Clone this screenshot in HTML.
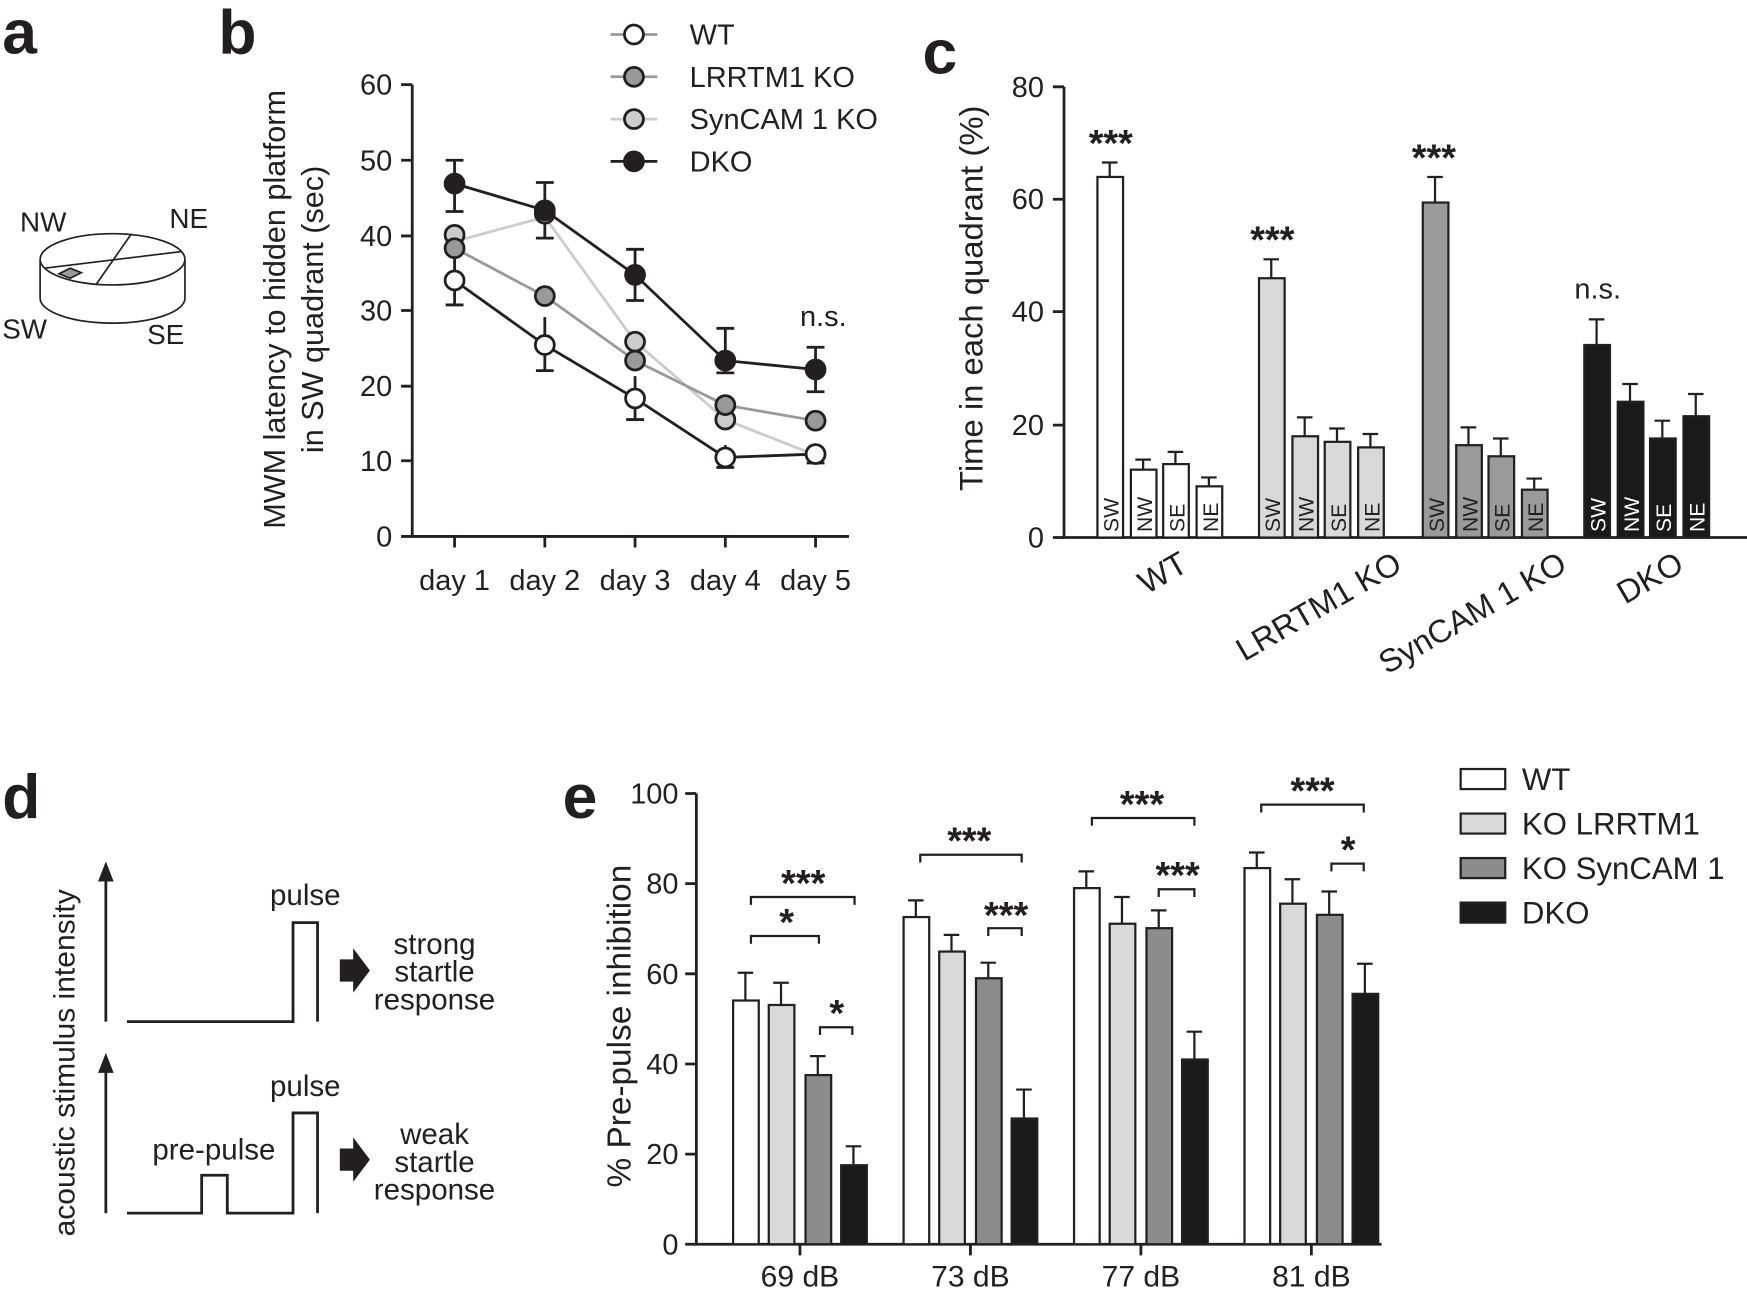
<!DOCTYPE html><html><head><style>body{margin:0;background:#fff}svg{display:block}text{font-family:"Liberation Sans",Arial,sans-serif;fill:#231f20}</style></head><body>
<svg width="1747" height="1291" viewBox="0 0 1568 1160" preserveAspectRatio="none" xmlns="http://www.w3.org/2000/svg">
<g font-weight="bold" font-size="56"><text x="2" y="48">a</text><text x="196" y="48">b</text><text x="828" y="66">c</text><text x="2" y="735">d</text><text x="505" y="735">e</text></g>
<!-- a -->
<g stroke="#231f20" stroke-width="1.5" fill="#fff">
<path d="M36 233 v35 a64 22 0 0 0 130 0 v-35"/>
<ellipse cx="101" cy="233" rx="65" ry="23"/>
<line x1="118" y1="210" x2="86" y2="256"/><line x1="40" y1="241" x2="163" y2="226"/>
<path d="M53 246 l10 -5 l10 4 l-10 5z" fill="#999"/></g>
<g font-size="25"><text x="18" y="208">NW</text><text x="152" y="205">NE</text><text x="2" y="304">SW</text><text x="132" y="309">SE</text></g>
<!-- b -->
<g stroke="#231f20" stroke-width="2.5" fill="none"><path d="M370 76 V482 H762"/>
<path d="M360 76h10M360 144h10M360 212h10M360 279h10M360 347h10M360 414h10M360 482h10M408 482v10M489 482v10M570 482v10M651 482v10M732 482v10"/></g>
<g font-size="26" text-anchor="end"><text x="352" y="85">60</text><text x="352" y="153">50</text><text x="352" y="221">40</text><text x="352" y="288">30</text><text x="352" y="356">20</text><text x="352" y="423">10</text><text x="352" y="491">0</text></g>
<g font-size="26" text-anchor="middle"><text x="408" y="530">day 1</text><text x="489" y="530">day 2</text><text x="570" y="530">day 3</text><text x="651" y="530">day 4</text><text x="732" y="530">day 5</text><text x="739" y="293">n.s.</text></g>
<text transform="translate(256,278) rotate(-90)" font-size="27.5" text-anchor="middle">MWM latency to hidden platform</text>
<text transform="translate(290,278) rotate(-90)" font-size="27.5" text-anchor="middle">in SW quadrant  (sec)</text>
<g stroke-width="2.5">
<polyline points="408,217 489,195 570,307 651,377 732,409" stroke="#ccc" fill="none"/>
<polyline points="408,223 489,266 570,324 651,364 732,378" stroke="#999" fill="none"/>
<polyline points="408,252 489,310 570,358 651,411 732,408" stroke="#231f20" fill="none"/>
<polyline points="408,165 489,189 570,247 651,324 732,332" stroke="#231f20" fill="none"/>
<g stroke="#231f20" fill="none"><path d="M408 144v46M400 144h16M400 190h16M489 164v50M481 164h16M481 214h16M570 224v46M562 224h16M562 270h16M651 295v40M643 295h16M643 335h16M732 312v40M724 312h16M724 352h16M408 232v42M400 274h16M489 285v48M481 333h16M570 338v39M562 377h16M651 400v20M643 420h16M732 400v16M724 416h16"/></g>
<g stroke="#231f20"><g fill="#ccc"><circle cx="408" cy="211" r="8.5"/><circle cx="489" cy="192" r="8.5"/><circle cx="570" cy="307" r="8.5"/><circle cx="651" cy="377" r="8.5"/></g>
<g fill="#999"><circle cx="408" cy="223" r="8.5"/><circle cx="489" cy="266" r="8.5"/><circle cx="570" cy="324" r="8.5"/><circle cx="651" cy="364" r="8.5"/><circle cx="732" cy="378" r="8.5"/></g>
<g fill="#fff"><circle cx="408" cy="252" r="8.5"/><circle cx="489" cy="310" r="8.5"/><circle cx="570" cy="358" r="8.5"/><circle cx="651" cy="411" r="8.5"/><circle cx="732" cy="408" r="8.5"/></g>
<g fill="#231f20"><circle cx="408" cy="165" r="8.5"/><circle cx="489" cy="189" r="8.5"/><circle cx="570" cy="247" r="8.5"/><circle cx="651" cy="324" r="8.5"/><circle cx="732" cy="332" r="8.5"/></g></g>
<line x1="548" y1="31" x2="590" y2="31" stroke="#999"/><circle cx="569" cy="31" r="8.5" fill="#fff" stroke="#231f20"/>
<line x1="548" y1="69" x2="590" y2="69" stroke="#999"/><circle cx="569" cy="69" r="8.5" fill="#999" stroke="#231f20"/>
<line x1="548" y1="107" x2="590" y2="107" stroke="#ccc"/><circle cx="569" cy="107" r="8.5" fill="#ccc" stroke="#231f20"/>
<line x1="548" y1="145" x2="590" y2="145" stroke="#231f20"/><circle cx="569" cy="145" r="8.5" fill="#231f20" stroke="#231f20"/></g>
<g font-size="26"><text x="619" y="40">WT</text><text x="619" y="78">LRRTM1 KO</text><text x="619" y="116">SynCAM 1 KO</text><text x="619" y="154">DKO</text></g>
<!-- c -->
<g stroke="#231f20" stroke-width="2.5" fill="none"><path d="M955 78V483H1568"/><path d="M945 78h10M945 179h10M945 280h10M945 382h10M945 483h10"/></g>
<g font-size="26" text-anchor="end"><text x="937" y="87">80</text><text x="937" y="188">60</text><text x="937" y="289">40</text><text x="937" y="391">20</text><text x="937" y="492">0</text></g>
<text transform="translate(882,268) rotate(-90)" font-size="29.5" text-anchor="middle">Time in each quadrant (%)</text>
<g stroke="#231f20" stroke-width="2">
<g fill="#fff"><rect x="985" y="159" width="23" height="324"/><rect x="1015" y="422" width="23" height="61"/><rect x="1044" y="417" width="23" height="66"/><rect x="1074" y="437" width="23" height="46"/></g>
<g fill="#d9d9d9"><rect x="1130" y="250" width="23" height="233"/><rect x="1160" y="392" width="23" height="91"/><rect x="1189" y="397" width="23" height="86"/><rect x="1219" y="402" width="23" height="81"/></g>
<g fill="#9a9a9a"><rect x="1277" y="182" width="23" height="301"/><rect x="1307" y="400" width="23" height="83"/><rect x="1336" y="410" width="23" height="73"/><rect x="1366" y="440" width="23" height="43"/></g>
<g fill="#1a1a1a"><rect x="1422" y="310" width="23" height="173"/><rect x="1452" y="361" width="23" height="122"/><rect x="1481" y="394" width="23" height="89"/><rect x="1511" y="374" width="23" height="109"/></g>
<path d="M996 159v-13M989 146h14M1026 422v-9M1019 413h14M1055 417v-11M1048 406h14M1085 437v-8M1078 429h14M1141 250v-17M1134 233h14M1171 392v-17M1164 375h14M1200 397v-12M1193 385h14M1230 402v-12M1223 390h14M1288 182v-23M1281 159h14M1318 400v-16M1311 384h14M1347 410v-16M1340 394h14M1377 440v-10M1370 430h14M1433 310v-23M1426 287h14M1463 361v-16M1456 345h14M1492 394v-16M1485 378h14M1522 374v-20M1515 354h14" fill="none"/></g>
<g font-size="19"><g fill="#231f20"><text transform="translate(1004,478) rotate(-90)">SW</text><text transform="translate(1034,478) rotate(-90)">NW</text><text transform="translate(1063,478) rotate(-90)">SE</text><text transform="translate(1093,478) rotate(-90)">NE</text><text transform="translate(1149,478) rotate(-90)">SW</text><text transform="translate(1179,478) rotate(-90)">NW</text><text transform="translate(1208,478) rotate(-90)">SE</text><text transform="translate(1238,478) rotate(-90)">NE</text><text transform="translate(1296,478) rotate(-90)">SW</text><text transform="translate(1326,478) rotate(-90)">NW</text><text transform="translate(1355,478) rotate(-90)">SE</text><text transform="translate(1385,478) rotate(-90)">NE</text></g>
<g><text transform="translate(1441,478) rotate(-90)" style="fill:#fff">SW</text><text transform="translate(1471,478) rotate(-90)" style="fill:#fff">NW</text><text transform="translate(1500,478) rotate(-90)" style="fill:#fff">SE</text><text transform="translate(1530,478) rotate(-90)" style="fill:#fff">NE</text></g></g>
<g font-size="34" font-weight="bold" text-anchor="middle"><text x="997" y="140">***</text><text x="1142" y="227">***</text><text x="1287" y="153">***</text></g>
<text x="1434" y="268" font-size="26" text-anchor="middle">n.s.</text>
<g font-size="29" text-anchor="end"><text transform="translate(1068,512) rotate(-30)">WT</text><text transform="translate(1260,512) rotate(-30)">LRRTM1 KO</text><text transform="translate(1408,512) rotate(-30)">SynCAM 1 KO</text><text transform="translate(1513,512) rotate(-30)">DKO</text></g>
<!-- d -->
<g stroke="#231f20" stroke-width="2.5" fill="none">
<path d="M95 918V788"/><path d="M95 1090V960"/>
<path d="M114 918H263V829H285V918"/>
<path d="M114 1090H181V1056H204V1090H263V1000H285V1090"/></g>
<g fill="#231f20"><path d="M88 792l7-18l7 18z"/><path d="M88 964l7-18l7 18z"/><path d="M305 862h12v-10l15 20l-15 20v-10h-12z"/><path d="M305 1032h12v-10l15 20l-15 20v-10h-12z"/></g>
<text transform="translate(67,955) rotate(-90)" font-size="27" text-anchor="middle">acoustic stimulus intensity</text>
<g font-size="26.5" text-anchor="middle"><text x="274" y="813">pulse</text><text x="390" y="857">strong</text><text x="390" y="882">startle</text><text x="390" y="907">response</text><text x="274" y="985">pulse</text><text x="192" y="1042">pre-pulse</text><text x="390" y="1028">weak</text><text x="390" y="1053">startle</text><text x="390" y="1078">response</text></g>
<!-- e -->
<g stroke="#231f20" stroke-width="2.5" fill="none"><path d="M625 713V1118H1240"/><path d="M615 713h10M615 794h10M615 875h10M615 956h10M615 1037h10M615 1118h10M718 1118v10M871 1118v10M1024 1118v10M1177 1118v10"/></g>
<g font-size="26" text-anchor="end"><text x="609" y="722">100</text><text x="609" y="803">80</text><text x="609" y="884">60</text><text x="609" y="965">40</text><text x="609" y="1046">20</text><text x="609" y="1127">0</text></g>
<text transform="translate(566,922) rotate(-90)" font-size="30" text-anchor="middle">% Pre-pulse inhibition</text>
<g font-size="27" text-anchor="middle"><text x="718" y="1156">69 dB</text><text x="871" y="1156">73 dB</text><text x="1024" y="1156">77 dB</text><text x="1177" y="1156">81 dB</text></g>
<g stroke="#231f20" stroke-width="2">
<g fill="#fff"><rect x="658" y="899" width="23" height="219"/><rect x="811" y="824" width="23" height="294"/><rect x="964" y="798" width="23" height="320"/><rect x="1117" y="780" width="23" height="338"/></g>
<g fill="#d9d9d9"><rect x="690" y="903" width="23" height="215"/><rect x="843" y="855" width="23" height="263"/><rect x="996" y="830" width="23" height="288"/><rect x="1149" y="812" width="23" height="306"/></g>
<g fill="#8c8c8c"><rect x="723" y="966" width="23" height="152"/><rect x="876" y="879" width="23" height="239"/><rect x="1029" y="834" width="23" height="284"/><rect x="1182" y="822" width="23" height="296"/></g>
<g fill="#1a1a1a"><rect x="755" y="1047" width="23" height="71"/><rect x="908" y="1005" width="23" height="113"/><rect x="1061" y="952" width="23" height="166"/><rect x="1214" y="893" width="23" height="225"/></g>
<path d="M669 899v-25M662 874h14M701 903v-20M694 883h14M734 966v-17M727 949h14M766 1047v-17M759 1030h14M822 824v-15M815 809h14M854 855v-15M847 840h14M887 879v-14M880 865h14M919 1005v-26M912 979h14M975 798v-15M968 783h14M1007 830v-24M1000 806h14M1040 834v-16M1033 818h14M1072 952v-25M1065 927h14M1128 780v-14M1121 766h14M1160 812v-22M1153 790h14M1193 822v-21M1186 801h14M1225 893v-27M1218 866h14" fill="none"/>
<path d="M674 813v-7H767v7M674 848v-7H735v7M736 930v-7H765v7M826 775v-7H917v7M887 841v-7H917v7M980 742v-7H1072v7M1040 806v-7H1072v7M1132 730v-7H1224v7M1195 783v-7H1224v7" fill="none"/></g>
<g font-size="34" font-weight="bold" text-anchor="middle"><text x="721" y="805">***</text><text x="706" y="840">*</text><text x="751" y="922">*</text><text x="870" y="767">***</text><text x="903" y="834">***</text><text x="1025" y="734">***</text><text x="1057" y="798">***</text><text x="1178" y="722">***</text><text x="1210" y="775">*</text></g>
<g stroke="#231f20" stroke-width="2"><rect x="1311" y="691" width="40" height="18" fill="#fff"/><rect x="1311" y="731" width="40" height="18" fill="#d9d9d9"/><rect x="1311" y="771" width="40" height="18" fill="#8c8c8c"/><rect x="1311" y="811" width="40" height="18" fill="#1a1a1a"/></g>
<g font-size="28"><text x="1366" y="710">WT</text><text x="1366" y="750">KO LRRTM1</text><text x="1366" y="790">KO SynCAM 1</text><text x="1366" y="830">DKO</text></g>
</svg></body></html>
